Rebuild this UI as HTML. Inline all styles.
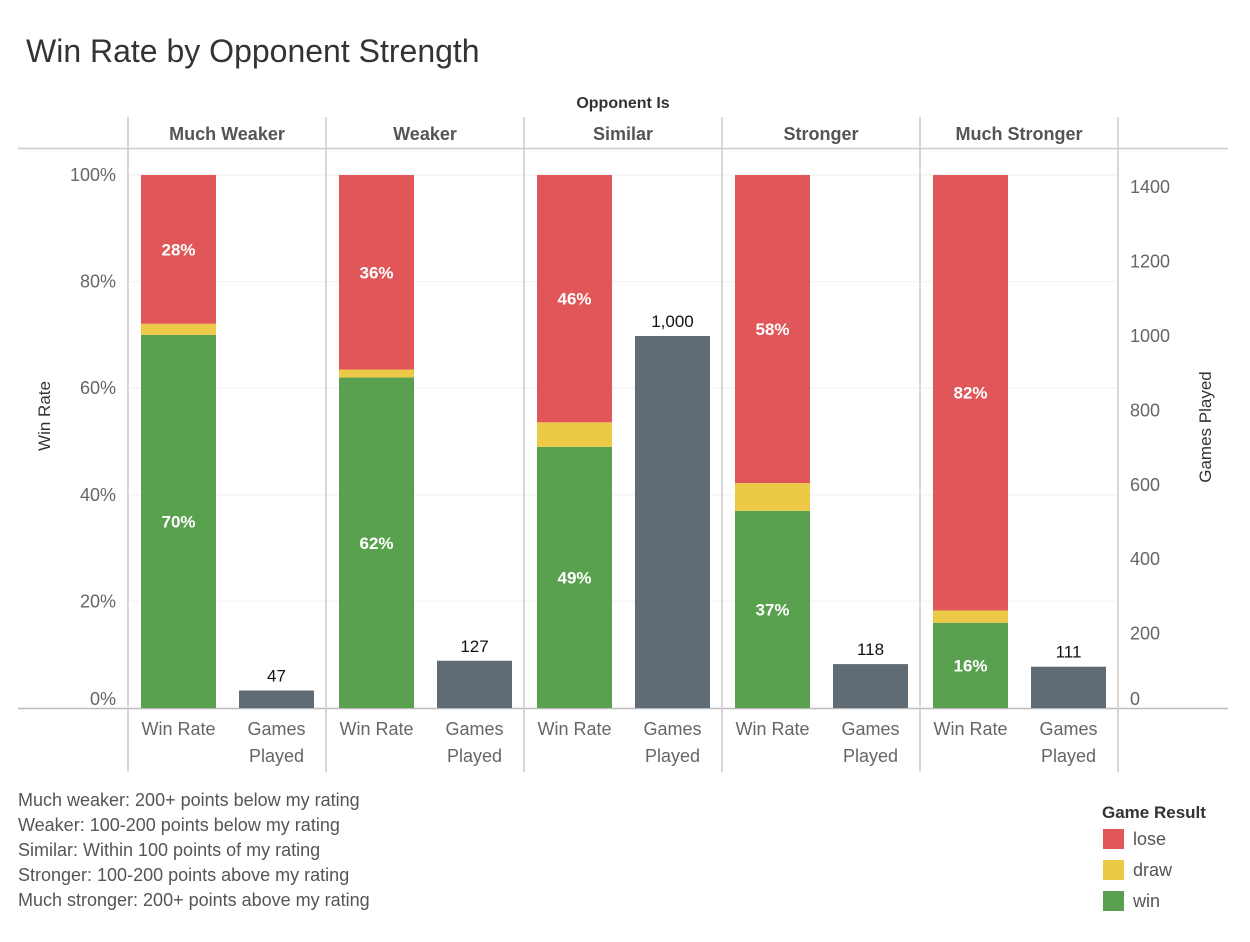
<!DOCTYPE html>
<html><head><meta charset="utf-8"><style>
body{margin:0;background:#fff;font-family:"Liberation Sans",sans-serif;}
svg text{font-family:"Liberation Sans",sans-serif;}
</style></head><body>
<svg width="1250" height="937">
<text x="26" y="62" font-size="32" fill="#333">Win Rate by Opponent Strength</text>
<g id="g"></g>
</svg>
<script>
const categories=["Much Weaker","Weaker","Similar","Stronger","Much Stronger"];
const winVals=[70,62,49,37,16];
const drawVals=[2.1,1.5,4.6,5.2,2.3];
const loseVals=[27.9,36.5,46.4,57.8,81.7];
const winLabels=["70%","62%","49%","37%","16%"];
const loseLabels=["28%","36%","46%","58%","82%"];
const games=[47,127,1000,118,111];
const gameLabels=["47","127","1,000","118","111"];
const pctTicks=[0,20,40,60,80,100];
const gameTicks=[0,200,400,600,800,1000,1200,1400];
const legendNotes=["Much weaker: 200+ points below my rating","Weaker: 100-200 points below my rating","Similar: Within 100 points of my rating","Stronger: 100-200 points above my rating","Much stronger: 200+ points above my rating"];

const NS="http://www.w3.org/2000/svg",g=document.getElementById('g');
function el(t,a,txt){const e=document.createElementNS(NS,t);for(const k in a)e.setAttribute(k,a[k]);if(txt!=null)e.textContent=txt;g.appendChild(e);return e;}
const y0=708,yTop=175;
const yP=v=>y0-(y0-yTop)*v/100;
const yG=v=>y0-v*0.372;
const px0=128,pw=198;
pctTicks.forEach(t=>{if(t>0){const l=el('line',{x1:128,x2:1118,y1:yP(t),y2:yP(t),stroke:'#f4f4f4','stroke-width':1.5});

}
const tx=el('text',{x:116,y:yP(t)+6+(t==0?-9:0),'text-anchor':'end','font-size':18,fill:'#666'},t+'%');

});
gameTicks.forEach(t=>{const tx=el('text',{x:1130,y:yG(t)+6+(t==0?-9:0),'font-size':18,fill:'#666'},t);

});
el('line',{x1:18,x2:1228,y1:148.5,y2:148.5,stroke:'#ccc','stroke-width':1.5});
el('line',{x1:18,x2:1228,y1:708.5,y2:708.5,stroke:'#bbb','stroke-width':1.5});
for(let i=0;i<=5;i++){const x=px0+i*pw;el('line',{x1:x,x2:x,y1:117,y2:772,stroke:'#ccc','stroke-width':1.5});}
let t=el('text',{x:623,y:108,'text-anchor':'middle','font-size':16,'font-weight':'bold',fill:'#333'},'Opponent Is');


t=el('text',{x:0,y:0,'text-anchor':'middle','font-size':17,fill:'#333',transform:'translate(50,416) rotate(-90)'},'Win Rate');


t=el('text',{x:0,y:0,'text-anchor':'middle','font-size':17,fill:'#333',transform:'translate(1211,427) rotate(-90)'},'Games Played');


categories.forEach((c,i)=>{
 const x=px0+i*pw,bx=x+13,gx=x+111,bw=75;
 let h=el('text',{x:x+pw/2,y:140,'text-anchor':'middle','font-size':18,'font-weight':'bold',fill:'#555'},c);
 
 
 const w=winVals[i],d=drawVals[i],lo=loseVals[i];
 let r=el('rect',{x:bx,y:yP(w),width:bw,height:yP(0)-yP(w),fill:'#59a14f'});
 
 
 r=el('rect',{x:bx,y:yP(w+d),width:bw,height:yP(w)-yP(w+d),fill:'#edc948'});
 
 
 r=el('rect',{x:bx,y:yP(w+d+lo),width:bw,height:yP(w+d)-yP(w+d+lo),fill:'#e15759'});
 
 
 let l=el('text',{x:bx+bw/2,y:(yP(0)+yP(w))/2+6,'text-anchor':'middle','font-size':17,'font-weight':'bold',fill:'#fff'},winLabels[i]);
 
 
 l=el('text',{x:bx+bw/2,y:(yP(w+d)+yP(100))/2+6,'text-anchor':'middle','font-size':17,'font-weight':'bold',fill:'#fff'},loseLabels[i]);
 
 
 r=el('rect',{x:gx,y:yG(games[i]),width:bw,height:yG(0)-yG(games[i]),fill:'#5f6b75'});
 
 
 l=el('text',{x:gx+bw/2,y:yG(games[i])-9,'text-anchor':'middle','font-size':17,fill:'#111'},gameLabels[i]);
 
 
 l=el('text',{x:bx+bw/2,y:735,'text-anchor':'middle','font-size':18,fill:'#666'},'Win Rate');
 
 
 l=el('text',{x:gx+bw/2,y:735,'text-anchor':'middle','font-size':18,fill:'#666'},'Games');
 
 
 l=el('text',{x:gx+bw/2,y:762,'text-anchor':'middle','font-size':18,fill:'#666'},'Played');
 
 
});
legendNotes.forEach((n,i)=>{const l=el('text',{x:18,y:806+i*25,'font-size':18,fill:'#555'},n);

});
t=el('text',{x:1102,y:818,'font-size':17,'font-weight':'bold',fill:'#333'},'Game Result');


[['lose','#e15759'],['draw','#edc948'],['win','#59a14f']].forEach((L,i)=>{
 const r=el('rect',{x:1103,y:829+i*31,width:21,height:20,fill:L[1]});
 
 
 const tx=el('text',{x:1133,y:845+i*31,'font-size':18,fill:'#555'},L[0]);
 
 
});
</script>
</body></html>
